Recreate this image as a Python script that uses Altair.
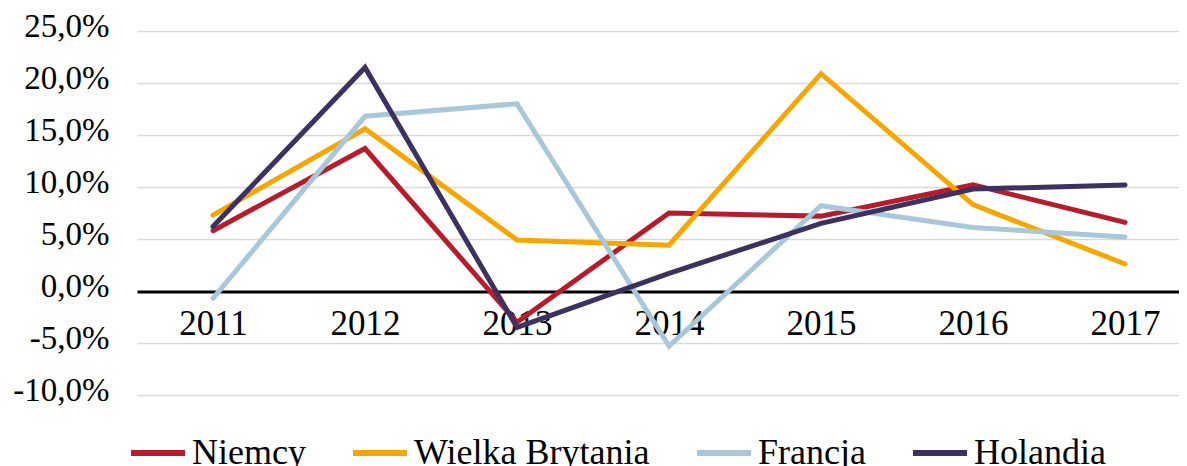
import altair as alt
import pandas as pd

years = [2011, 2012, 2013, 2014, 2015, 2016, 2017]
series = ["Niemcy", "Wielka Brytania", "Francja", "Holandia"]
niemcy = [5.8, 13.7, -3.0, 7.5, 7.2, 10.2, 6.6]
wielka_brytania = [7.3, 15.6, 4.9, 4.4, 20.9, 8.3, 2.6]
francja = [-0.7, 16.8, 18.0, -5.3, 8.2, 6.1, 5.2]
holandia = [6.2, 21.5, -3.5, 1.7, 6.5, 9.8, 10.2]
colors = ["#B71C2C", "#F5A700", "#A8C8D9", "#3D3160"]
y_ticks = [-10, -5, 0, 5, 10, 15, 20, 25]

rows = []
for name, vals in zip(series, [niemcy, wielka_brytania, francja, holandia]):
    for yr, v in zip(years, vals):
        rows.append({"series": name, "year": yr, "value": v, "sidx": series.index(name)})
df = pd.DataFrame(rows)

FONT = "Liberation Serif"

y_label_expr = ("(datum.value < 0 ? '-' : '') + "
                "replace(format(abs(datum.value), '.1f'), '.', ',') + '%'")

chart = alt.Chart(df).mark_line(strokeWidth=5, strokeCap="round").encode(
    x=alt.X(
        "year:Q",
        scale=alt.Scale(domain=[2010.5, 2017.355], nice=False, zero=False),
        axis=alt.Axis(
            values=years, format="d", title=None, grid=False, ticks=False,
            offset=-103.5, domainColor="black", domainWidth=3,
            labelPadding=15, labelFontSize=35, labelFont=FONT,
            labelColor="black", labelBaseline="top", labelFlush=False,
        ),
    ),
    y=alt.Y(
        "value:Q",
        scale=alt.Scale(domain=[-10, 25], nice=False, zero=False),
        axis=alt.Axis(
            values=y_ticks, labelExpr=y_label_expr, title=None, domain=False,
            ticks=False, gridColor="#D9D9D9", gridWidth=1.5, labelPadding=28,
            labelFontSize=33, labelFont=FONT, labelColor="black",
            labelBaseline="middle", labelOffset=-5,
        ),
    ),
    color=alt.Color(
        "series:N",
        scale=alt.Scale(domain=series, range=colors),
        sort=series,
        legend=alt.Legend(
            title=None, orient="none", direction="horizontal",
            legendX=-9, legendY=392, symbolType="stroke", symbolSize=2916,
            symbolStrokeWidth=6, labelFontSize=36, labelFont=FONT,
            labelColor="black", labelOffset=4, columnPadding=35, padding=0,
            labelLimit=500,
        ),
    ),
    order=alt.Order("sidx:Q"),
    detail="series:N",
).properties(
    width=1042,
    height=364,
    autosize=alt.AutoSizeParams(type="none"),
    padding={"left": 129, "top": 23, "right": 0, "bottom": 71},
).configure(font=FONT).configure_view(strokeWidth=0)

chart.save("out.html", embed_options={"renderer": "svg", "actions": False})
